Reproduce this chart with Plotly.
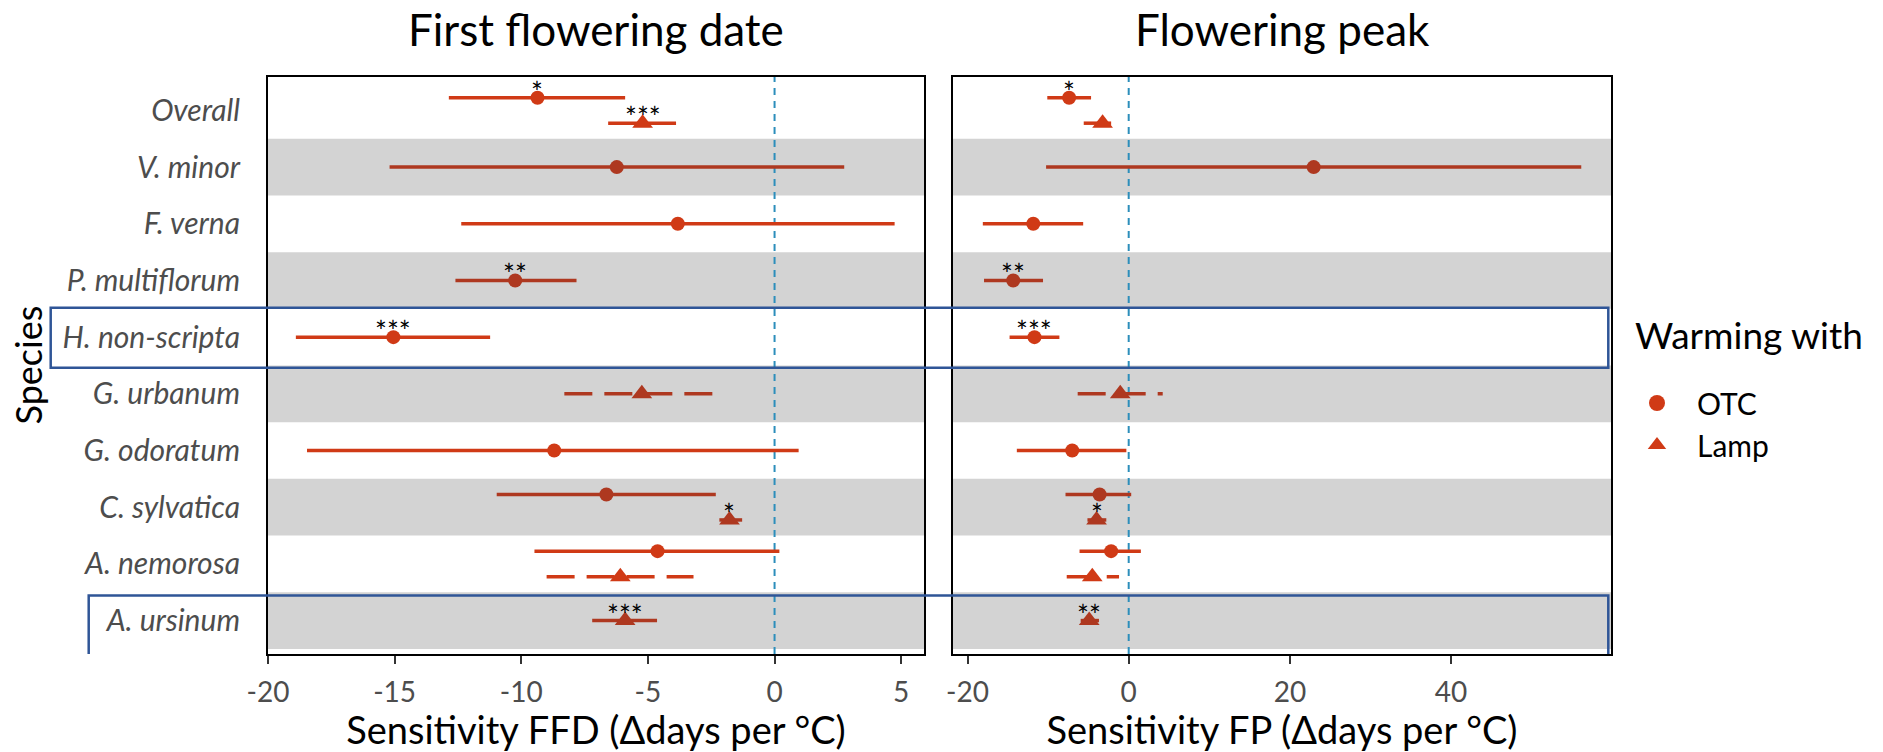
import plotly.graph_objects as go

species = ["Overall", "V. minor", "F. verna", "P. multiflorum", "H. non-scripta",
           "G. urbanum", "G. odoratum", "C. sylvatica", "A. nemorosa", "A. ursinum"]

# First flowering date (FFD) sensitivity, OTC warming
ffd_otc_est = [-9.36, -6.23, -3.82, -10.24, -15.05, None, -8.70, -6.64, -4.62, None]
ffd_otc_lo = [-12.86, -15.2, -12.37, -12.6, -18.9, None, -18.46, -10.97, -9.48, None]
ffd_otc_hi = [-5.90, 2.75, 4.74, -7.82, -11.23, None, 0.95, -2.32, 0.19, None]
ffd_otc_sig = ["*", "", "", "**", "***", "", "", "", "", ""]
# FFD, Lamp warming
ffd_lamp_est = [-5.21, None, None, None, None, -5.24, None, -1.78, -6.09, -5.90]
ffd_lamp_lo = [-6.57, None, None, None, None, -8.30, None, -2.18, -9.00, -7.20]
ffd_lamp_hi = [-3.89, None, None, None, None, -2.35, None, -1.28, -3.20, -4.64]
ffd_lamp_sig = ["***", "", "", "", "", "", "", "*", "", "***"]

# Flowering peak (FP) sensitivity, OTC warming
fp_otc_est = [-7.39, 22.95, -11.84, -14.33, -11.69, None, -7.01, -3.61, -2.18, None]
fp_otc_lo = [-10.1, -10.25, -18.1, -17.95, -14.78, None, -13.88, -7.84, -6.10, None]
fp_otc_hi = [-4.67, 56.15, -5.65, -10.63, -8.60, None, -0.29, 0.31, 1.51, None]
fp_otc_sig = ["*", "", "", "**", "***", "", "", "", "", ""]
# FP, Lamp warming
fp_lamp_est = [-3.24, None, None, None, None, -1.05, None, -3.99, -4.52, -4.90]
fp_lamp_lo = [-5.58, None, None, None, None, -6.33, None, -5.12, -7.69, -5.96]
fp_lamp_hi = [-2.18, None, None, None, None, 4.22, None, -2.78, -1.20, -3.69]
fp_lamp_sig = ["", "", "", "", "", "", "", "*", "", "**"]

# Lamp estimates drawn with a dashed interval
lamp_dashed = [False, False, False, False, False, True, False, False, True, False]
# alternating shaded rows
shaded = [False, True, False, True, False, True, False, True, False, True]

ffd_ticks = [-20, -15, -10, -5, 0, 5]
fp_ticks = [-20, 0, 20, 40]

panel_titles = ["First flowering date", "Flowering peak"]
x_titles = ["Sensitivity FFD (\u0394days per \u00b0C)", "Sensitivity FP (\u0394days per \u00b0C)"]
treatments = ["OTC", "Lamp"]
legend_title = "Warming with"

FONT = "Lato"
RED = "#D03A16"
RED_DARK = "#AE3820"
BAND = "#D3D3D3"
ZERO = "#2C8EBB"
BOX = "#2F5597"
DODGE = 0.225

fig = go.Figure()

panels = [
    ("x", "y", (ffd_otc_est, ffd_otc_lo, ffd_otc_hi, ffd_otc_sig),
     (ffd_lamp_est, ffd_lamp_lo, ffd_lamp_hi, ffd_lamp_sig)),
    ("x2", "y2", (fp_otc_est, fp_otc_lo, fp_otc_hi, fp_otc_sig),
     (fp_lamp_est, fp_lamp_lo, fp_lamp_hi, fp_lamp_sig)),
]

annotations = []
for xa, ya, otc, lamp in panels:
    for t_i, (est, lo, hi, sig) in enumerate([otc, lamp]):
        other = lamp if t_i == 0 else otc
        ys, xs, cols = [], [], []
        for i in range(len(species)):
            if est[i] is None:
                continue
            pos = i + 1
            if other[0][i] is not None:
                pos = pos - DODGE if t_i == 0 else pos + DODGE
            col = RED_DARK if shaded[i] else RED
            dash = "28px,12px" if (t_i == 1 and lamp_dashed[i]) else "solid"
            fig.add_trace(go.Scatter(
                x=[lo[i], hi[i]], y=[pos, pos], mode="lines",
                line=dict(color=col, width=3.5, dash=dash),
                xaxis=xa, yaxis=ya, showlegend=False, hoverinfo="skip"))
            xs.append(est[i]); ys.append(pos); cols.append(col)
            if sig[i]:
                annotations.append(dict(
                    x=est[i], y=pos, xref=xa, yref=ya, text=sig[i], showarrow=False,
                    xanchor="center", yanchor="middle", yshift=6,
                    font=dict(family=FONT, size=28, color="black")))
        fig.add_trace(go.Scatter(
            x=xs, y=ys, mode="markers",
            marker=dict(color=cols, size=14 if t_i == 0 else 18,
                        symbol="circle" if t_i == 0 else "triangle-up",
                        line=dict(width=0)),
            xaxis=xa, yaxis=ya, showlegend=False, name=treatments[t_i]))

# legend entries
for t_i, name in enumerate(treatments):
    fig.add_trace(go.Scatter(
        x=[None], y=[None], mode="markers", name=name,
        marker=dict(color=RED, size=16, symbol="circle" if t_i == 0 else "triangle-up"),
        showlegend=True))

shapes = []
for xd, ya in [("x domain", "y"), ("x2 domain", "y2")]:
    for i in range(len(species)):
        if shaded[i]:
            shapes.append(dict(type="rect", xref=xd, yref=ya, x0=0, x1=1,
                               y0=i + 0.5, y1=i + 1.5, fillcolor=BAND,
                               line=dict(width=0), layer="below"))
for xa, ya in [("x", "y domain"), ("x2", "y2 domain")]:
    shapes.append(dict(type="line", xref=xa, yref=ya, x0=0, x1=0, y0=0, y1=1,
                       line=dict(color=ZERO, width=2, dash="7px,6px"), layer="below"))
# highlight boxes
W, H = 1883, 752
shapes.append(dict(type="rect", xref="paper", yref="y", x0=50.7 / W, x1=1608.3 / W,
                   y0=4.48, y1=5.54, line=dict(color=BOX, width=2.5)))
shapes.append(dict(type="rect", xref="paper", yref="y", x0=88.7 / W, x1=1608.3 / W,
                   y0=9.56, y1=10.62, line=dict(color=BOX, width=2.5)))

for k, xd in enumerate(["x domain", "x2 domain"]):
    annotations.append(dict(x=0.5, y=1 - 29 / H, xref=xd, yref="paper",
                            text=panel_titles[k], showarrow=False,
                            xanchor="center", yanchor="middle",
                            font=dict(family=FONT, size=44, color="black")))
annotations.append(dict(x=27 / W, y=1 - 365.5 / H, xref="paper", yref="paper",
                        text="Species", textangle=-90, showarrow=False,
                        xanchor="center", yanchor="middle",
                        font=dict(family=FONT, size=36, color="black")))
annotations.append(dict(x=1633 / W, y=1 - 334 / H, xref="paper", yref="paper",
                        text=legend_title, showarrow=False,
                        xanchor="left", yanchor="middle",
                        font=dict(family=FONT, size=37, color="black")))

ydom = [1 - 654 / H, 1 - 77 / H]
axis_common = dict(showline=True, mirror=True, linecolor="black", linewidth=2,
                   showgrid=False, zeroline=False, automargin=False)
xcommon = dict(axis_common, ticks="outside", ticklen=8, tickwidth=2, tickcolor="#333333",
               ticklabelstandoff=4,
               tickfont=dict(family=FONT, size=28, color="#4D4D4D"))

fig.update_layout(
    width=W, height=H, margin=dict(l=0, r=0, t=0, b=0, autoexpand=False),
    paper_bgcolor="white", plot_bgcolor="white",
    font=dict(family=FONT, color="black"),
    xaxis=dict(xcommon, domain=[268 / W, 924 / W], range=[-20, 5.9],
               tickvals=ffd_ticks, ticktext=[str(v) for v in ffd_ticks],
               title=dict(text=x_titles[0], font=dict(family=FONT, size=38, color="black"),
                          standoff=9)),
    xaxis2=dict(xcommon, domain=[953 / W, 1611 / W], range=[-21.8, 59.84], anchor="y2",
                tickvals=fp_ticks, ticktext=[str(v) for v in fp_ticks],
                title=dict(text=x_titles[1], font=dict(family=FONT, size=38, color="black"),
                           standoff=9)),
    yaxis=dict(axis_common, domain=ydom, range=[10.59, 0.41], tickvals=list(range(1, 11)),
               ticktext=species, ticks="", ticklabelstandoff=20,
               tickfont=dict(family=FONT, size=30, color="#4D4D4D", style="italic")),
    yaxis2=dict(axis_common, domain=ydom, range=[10.59, 0.41], anchor="x2",
                showticklabels=False, ticks=""),
    legend=dict(x=1617 / W, y=1 - 377 / H, xanchor="left", yanchor="top",
                font=dict(family=FONT, size=30, color="black"), itemwidth=70,
                bgcolor="rgba(0,0,0,0)"),
    shapes=shapes, annotations=annotations, showlegend=True,
)

fig.write_html("out.html")
